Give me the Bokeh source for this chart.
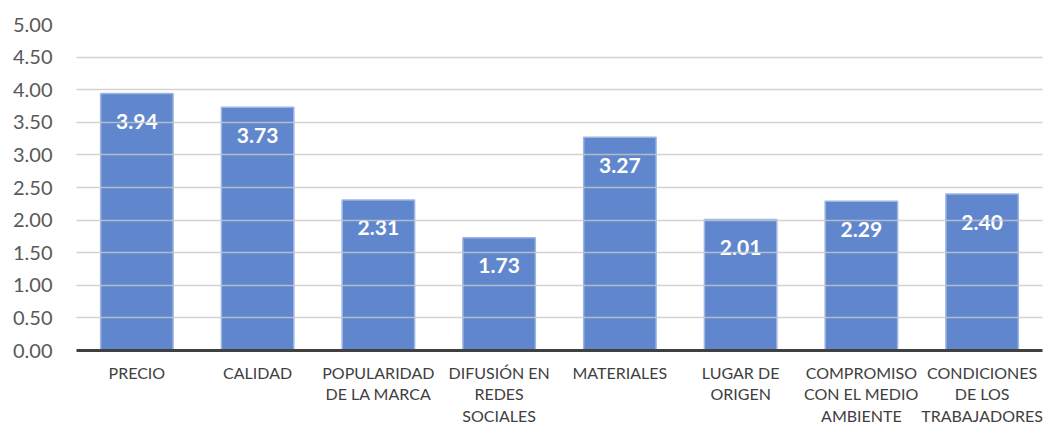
from bokeh.plotting import figure
from bokeh.models import ColumnDataSource, FactorRange, FixedTicker, NumeralTickFormatter, LabelSet
from bokeh.core.properties import value
from bokeh.embed import file_html
from bokeh.resources import INLINE

categories = ["PRECIO", "CALIDAD", "POPULARIDAD\nDE LA MARCA", "DIFUSIÓN EN\nREDES\nSOCIALES",
              "MATERIALES", "LUGAR DE\nORIGEN", "COMPROMISO\nCON EL MEDIO\nAMBIENTE",
              "CONDICIONES\nDE LOS\nTRABAJADORES"]
values = [3.94, 3.73, 2.31, 1.73, 3.27, 2.01, 2.29, 2.40]
labels = [f"{v:.2f}" for v in values]
y_ticks = [0, 0.5, 1, 1.5, 2, 2.5, 3, 3.5, 4, 4.5, 5]

FONT = "Lato"

src = ColumnDataSource(dict(cat=categories, val=values, lab=labels))

p = figure(width=1043, height=428, x_range=FactorRange(*categories), y_range=(0, 5),
           output_backend="svg", toolbar_location=None,
           min_border_left=76, min_border_right=1, min_border_top=24, min_border_bottom=78)
p.outline_line_color = None

p.vbar(x="cat", top="val", width=0.6, source=src, fill_color="#4472C4", fill_alpha=0.85,
       line_color="#9DB5E4", line_width=1.5)

p.add_layout(LabelSet(x="cat", y="val", text="lab", source=src, y_offset=-28,
                      text_align="center", text_baseline="middle", text_color="white",
                      text_font=value(FONT), text_font_style="bold", text_font_size="21px"))

p.xgrid.grid_line_color = None
p.ygrid.grid_line_color = "#C8C8C8"
p.ygrid.grid_line_alpha = 0.8
p.ygrid.grid_line_width = 1.5
p.ygrid.ticker = FixedTicker(ticks=y_ticks)
p.ygrid.level = "overlay"

p.yaxis.ticker = FixedTicker(ticks=y_ticks)
p.yaxis.formatter = NumeralTickFormatter(format="0.00")
p.yaxis.axis_line_color = None
p.yaxis.major_tick_line_color = None
p.yaxis.minor_tick_line_color = None
p.yaxis.major_tick_out = 0
p.yaxis.major_tick_in = 0
p.yaxis.major_label_text_font = FONT
p.yaxis.major_label_text_font_size = "20px"
p.yaxis.major_label_text_color = "#595959"
p.yaxis.major_label_standoff = 24

p.xaxis.axis_line_color = "#404040"
p.xaxis.axis_line_width = 3
p.xaxis.major_tick_line_color = None
p.xaxis.minor_tick_line_color = None
p.xaxis.major_tick_out = 0
p.xaxis.major_tick_in = 0
p.xaxis.major_label_text_font = FONT
p.xaxis.major_label_text_font_size = "16px"
p.xaxis.major_label_text_color = "#404040"
p.xaxis.major_label_standoff = 12
p.xaxis.major_label_text_line_height = 1.15

open("out.html", "w").write(file_html(p, INLINE))
